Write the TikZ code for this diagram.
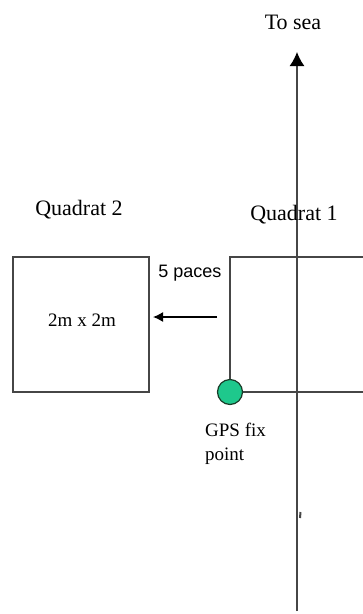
\documentclass[tikz,border=0pt]{standalone}
\usepackage{fontspec}
\setmainfont{Liberation Serif}
\newfontfamily\arialfont{Liberation Sans}
\usetikzlibrary{arrows.meta}
\definecolor{gpsgreen}{RGB}{30,200,140}
\definecolor{gpsedge}{RGB}{25,60,40}
\definecolor{linegray}{RGB}{70,70,70}
\tikzset{
  frame/.style={draw=linegray, line width=1.6pt},
  axisline/.style={draw=linegray, line width=1.4pt},
  label/.style={inner sep=0pt, font=\fontsize{22}{26}\selectfont},
  smalllabel/.style={inner sep=0pt, font=\fontsize{19}{24}\selectfont},
  gpsdot/.style={circle, minimum size=25pt, inner sep=0pt, fill=gpsgreen, draw=gpsedge, line width=1.2pt},
  tip/.style={-{Latex[length=14pt, width=15pt, color=black]}},
  smalltip/.style={-{Latex[length=10pt, width=10pt]}}
}
\begin{document}
\begin{tikzpicture}[x=1pt, y=-1pt]
  \useasboundingbox (0,0) rectangle (363,614);
  \fill[white] (0,0) rectangle (363,614);

  % north–south axis pointing to the sea
  \coordinate (south) at (297,611);
  \coordinate (north) at (297,52);
  \draw[axisline, tip] (south) -- (north);
  \node[label] (sea) at (293,22) {To sea};
  % small mark on the axis
  \coordinate (markA) at (300.5,512);
  \coordinate (markB) at (300,518);
  \draw[linegray, line width=2pt] (markA) -- (markB);

  % quadrat 1, anchored at the GPS fix point and running off to the east
  \coordinate (gps) at (230,392);
  \coordinate (q1ne) at (363,257);
  \coordinate (q1se) at (363,392);
  \draw[frame] (q1ne) -| (gps) -- (q1se);
  \node[label] (q1label) at (294,215) {Quadrat 1};

  % quadrat 2, five paces to the west
  \node[frame, minimum width=136pt, minimum height=135pt, inner sep=0pt] (q2) at (81,324.5) {};
  \node[smalllabel] (q2size) at (82,320) {2m x 2m};
  \node[label] (q2label) at (79,210) {Quadrat 2};

  % pacing arrow
  \coordinate (pacefrom) at (217,317);
  \coordinate (paceto) at (153,317);
  \draw[line width=1.4pt, smalltip] (pacefrom) -- (paceto);
  \node[inner sep=0pt, font=\arialfont\fontsize{18}{20}\selectfont] (paces) at (190,273) {5 paces};

  % GPS fix point
  \node[gpsdot] (fix) at (gps) {};
  \node[smalllabel, align=left, anchor=north west] (fixlabel) at (205,423) {GPS fix\\point};
\end{tikzpicture}
\end{document}
